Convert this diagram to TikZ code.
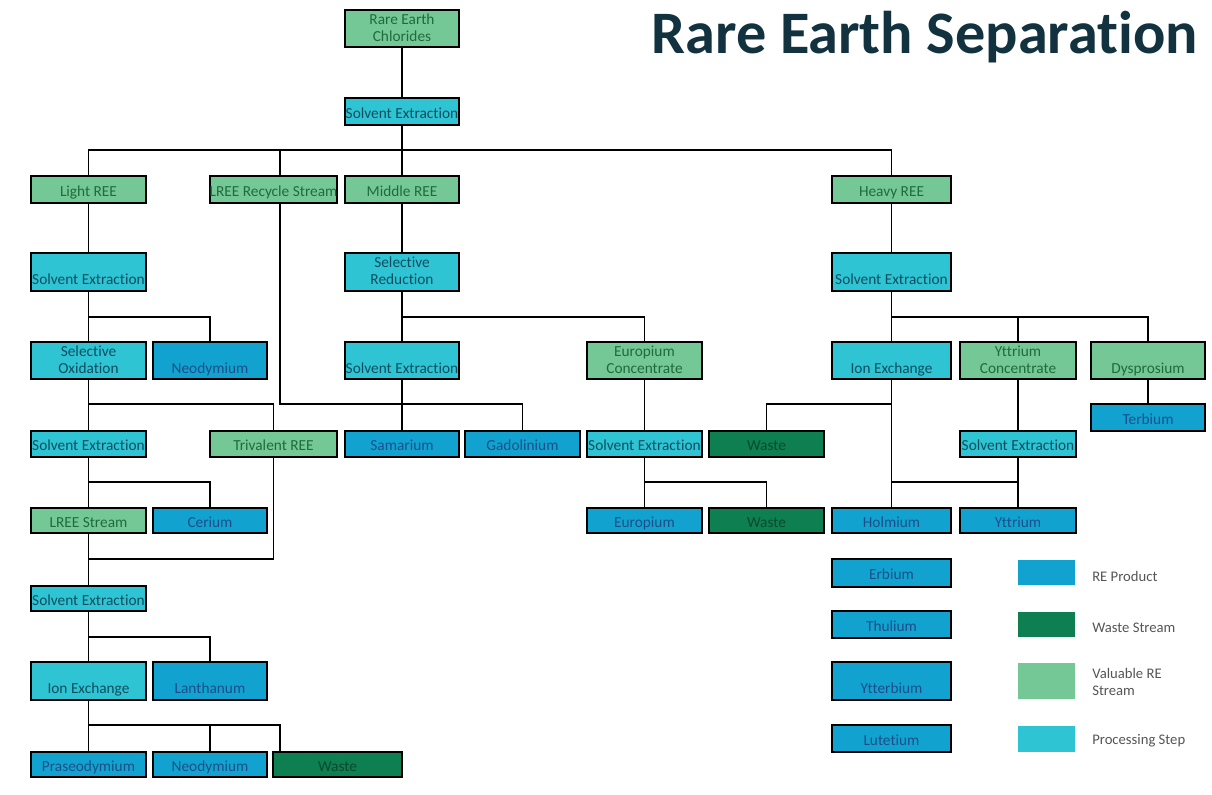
\documentclass[tikz,border=0pt]{standalone}
\usepackage{fontspec}
\setmainfont{Carlito}[Ligatures=NoCommon]
\definecolor{grn}{HTML}{74C896}
\definecolor{cyn}{HTML}{2FC4D4}
\definecolor{blu}{HTML}{12A2CF}
\definecolor{wst}{HTML}{0E7F51}
\definecolor{ttl}{HTML}{11323E}
\definecolor{leg}{HTML}{555555}
\definecolor{tval}{HTML}{1F6B3C}
\definecolor{tproc}{HTML}{0E4D5E}
\definecolor{tprod}{HTML}{1C4F8A}
\definecolor{twst}{HTML}{0A4A2C}
\tikzset{
  base/.style={draw=black, line width=1.1pt, inner sep=0pt, outer sep=0pt,
    font=\fontsize{11.5}{12.75}\selectfont},
  valbox/.style={base, fill=grn, text=tval},
  procbox/.style={base, fill=cyn, text=tproc},
  prodbox/.style={base, fill=blu, text=tprod},
  wastebox/.style={base, fill=wst, text=twst},
  conn/.style={draw=black, line width=1pt},
  swatch/.style={inner sep=0pt, outer sep=0pt, minimum width=42.75pt},
  legtext/.style={anchor=west, text=leg, align=left, inner sep=0pt,
    font=\fontsize{11}{13}\selectfont},
}
\newcommand\bx[8][2.6pt]{\node[#3, minimum width={(#6-#4)*0.75pt}, minimum height={(#7-#5)*0.75pt}]
  (#2) at ({(#4+#6)/2},{(#5+#7)/2})
  {\raisebox{-#1}[\height][\depth]{\makebox[0pt]{\begin{tabular}{@{}c@{}}#8\end{tabular}}}};}
\begin{document}
\begin{tikzpicture}[x=0.75pt,y=-0.75pt]
\useasboundingbox (0,0) rectangle (1212,794);
\fill[white] (0,0) rectangle (1212,794);
% title
\node[anchor=base east, inner sep=0pt, text=ttl] (title) at (1198,53)
  {\resizebox{409.5pt}{!}{\bfseries Rare Earth Separation}};
% bar levels
\coordinate (b150) at (0,150);
\coordinate (b317) at (0,317);
\coordinate (b404) at (0,404);
\coordinate (b482) at (0,482);
\coordinate (b559) at (0,559);
\coordinate (b637) at (0,637);
\coordinate (b725) at (0,725);
% nodes
\bx[0.8pt]{rec}{valbox}{345}{10}{459}{47}{Rare Earth\\Chlorides}
\bx{se0}{procbox}{345}{98}{459}{125}{Solvent Extraction}
\bx{light}{valbox}{31}{176}{146}{203}{Light REE}
\bx{lrs}{valbox}{210}{176}{337}{203}{LREE Recycle Stream}
\bx{mid}{valbox}{345}{176}{459}{203}{Middle REE}
\bx{heavy}{valbox}{832}{176}{951}{203}{Heavy REE}
\bx[0.8pt]{seA1}{procbox}{31}{253}{146}{291}{\\Solvent Extraction}
\bx[0.8pt]{selred}{procbox}{345}{253}{459}{291}{Selective\\Reduction}
\bx[0.8pt]{seH}{procbox}{832}{253}{951}{291}{\\Solvent Extraction}
\bx[0.8pt]{selox}{procbox}{31}{342}{146}{379}{Selective\\Oxidation}
\bx[0.8pt]{nd1}{prodbox}{153}{342}{267}{379}{\\Neodymium}
\bx[0.8pt]{seM}{procbox}{345}{342}{459}{379}{\\Solvent Extraction}
\bx[0.8pt]{euc}{valbox}{587}{342}{702}{379}{Europium\\Concentrate}
\bx[0.8pt]{ionH}{procbox}{832}{342}{951}{379}{\\Ion Exchange}
\bx[0.8pt]{ycon}{valbox}{960}{342}{1076}{379}{Yttrium\\Concentrate}
\bx[0.8pt]{dy}{valbox}{1091}{342}{1205}{379}{\\Dysprosium}
\bx{tb}{prodbox}{1091}{404}{1205}{431}{Terbium}
\bx{seA2}{procbox}{31}{431}{146}{457}{Solvent Extraction}
\bx{triv}{valbox}{210}{431}{337}{457}{Trivalent REE}
\bx{sm}{prodbox}{345}{431}{459}{457}{Samarium}
\bx{gd}{prodbox}{465}{431}{580}{457}{Gadolinium}
\bx{seE}{procbox}{587}{431}{702}{457}{Solvent Extraction}
\bx{w1}{wastebox}{709}{431}{824}{457}{Waste}
\bx{seY}{procbox}{960}{431}{1076}{457}{Solvent Extraction}
\bx{lree}{valbox}{31}{508}{146}{533}{LREE Stream}
\bx{ce}{prodbox}{153}{508}{267}{533}{Cerium}
\bx{eu}{prodbox}{587}{508}{702}{533}{Europium}
\bx{w2}{wastebox}{709}{508}{824}{533}{Waste}
\bx{ho}{prodbox}{832}{508}{951}{533}{Holmium}
\bx{yt}{prodbox}{960}{508}{1076}{533}{Yttrium}
\bx{er}{prodbox}{832}{559}{951}{587}{Erbium}
\bx{se3}{procbox}{31}{586}{146}{611}{Solvent Extraction}
\bx{tm}{prodbox}{832}{611}{951}{638}{Thulium}
\bx[0.8pt]{ionL}{procbox}{31}{662}{146}{700}{\\Ion Exchange}
\bx[0.8pt]{la}{prodbox}{153}{662}{267}{700}{\\Lanthanum}
\bx[0.8pt]{yb}{prodbox}{832}{662}{951}{700}{\\Ytterbium}
\bx{pr}{prodbox}{31}{752}{146}{777}{Praseodymium}
\bx{nd2}{prodbox}{153}{752}{267}{777}{Neodymium}
\bx{w3}{wastebox}{273}{752}{402}{777}{Waste}
\bx{lu}{prodbox}{832}{725}{951}{752}{Lutetium}
% connectors
\draw[conn] (rec.south) -- (se0.north);
\draw[conn] (se0.south) -- (mid.north);
\draw[conn] (se0.south) |- (b150 -| light.north) -- (light.north);
\draw[conn] (se0.south) |- (b150 -| heavy.north) -- (heavy.north);
\coordinate (lrsTop) at ([xshift=4.9pt]lrs.north);
\coordinate (lrsBot) at ([xshift=4.9pt]lrs.south);
\draw[conn] (b150 -| lrsTop) -- (lrsTop);
\draw[conn] (light.south) -- (seA1.north);
\draw[conn] (mid.south) -- (selred.north);
\draw[conn] (heavy.south) -- (seH.north);
\draw[conn] (seA1.south) -- (selox.north);
\draw[conn] (seA1.south) |- (b317 -| nd1.north) -- (nd1.north);
\draw[conn] (selred.south) -- (seM.north);
\draw[conn] (selred.south) |- (b317 -| euc.north) -- (euc.north);
\draw[conn] (seH.south) -- (ionH.north);
\draw[conn] (seH.south) |- (b317 -| ycon.north) -- (ycon.north);
\draw[conn] (seH.south) |- (b317 -| dy.north) -- (dy.north);
\draw[conn] (selox.south) -- (seA2.north);
\draw[conn] (selox.south) |- (b404 -| triv.north) -- (triv.north);
\draw[conn] (seM.south) -- (sm.north);
\draw[conn] (seM.south) |- (b404 -| gd.north) -- (gd.north);
\draw[conn] (lrsBot) |- (b404 -| seM.south);
\draw[conn] (euc.south) -- (seE.north);
\draw[conn] (ionH.south) -- (ho.north);
\draw[conn] (ionH.south) |- (b404 -| w1.north) -- (w1.north);
\draw[conn] (dy.south) -- (tb.north);
\draw[conn] (ycon.south) -- (seY.north);
\draw[conn] (seA2.south) -- (lree.north);
\draw[conn] (seA2.south) |- (b482 -| ce.north) -- (ce.north);
\draw[conn] (seE.south) -- (eu.north);
\draw[conn] (seE.south) |- (b482 -| w2.north) -- (w2.north);
\draw[conn] (seY.south) -- (yt.north);
\draw[conn] (seY.south) |- (b482 -| ho.north);
\draw[conn] (triv.south) |- (b559 -| lree.south);
\draw[conn] (lree.south) -- (se3.north);
\draw[conn] (se3.south) -- (ionL.north);
\draw[conn] (se3.south) |- (b637 -| la.north) -- (la.north);
\coordinate (w3in) at ([xshift=5.25pt]w3.north west);
\draw[conn] (ionL.south) -- (pr.north);
\draw[conn] (ionL.south) |- (b725 -| nd2.north) -- (nd2.north);
\draw[conn] (ionL.south) |- (b725 -| w3in) -- (w3in);
% legend
\node[swatch, fill=blu, minimum height=18.75pt] (l1) at (1046.5,572.5) {};
\node[swatch, fill=wst, minimum height=18.75pt] (l2) at (1046.5,624.5) {};
\node[swatch, fill=grn, minimum height=27pt] (l3) at (1046.5,681) {};
\node[swatch, fill=cyn, minimum height=19.5pt] (l4) at (1046.5,739) {};
\node[legtext] (t1) at (1092,576) {RE Product};
\node[legtext] (t2) at (1092,628) {Waste Stream};
\node[legtext] (t3) at (1092,682) {Valuable RE\\Stream};
\node[legtext] (t4) at (1092,741) {Processing Step};
\end{tikzpicture}
\end{document}
